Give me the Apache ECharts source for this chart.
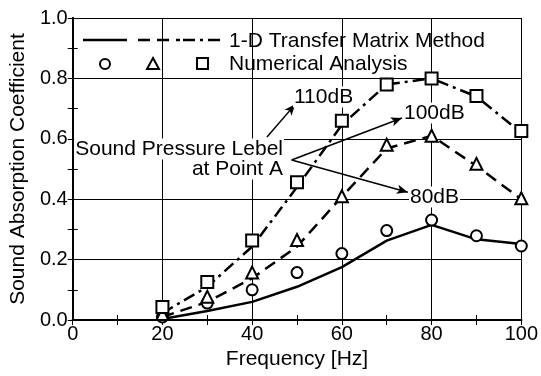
<!DOCTYPE html>
<html>
<head>
<meta charset="utf-8">
<script src="https://cdn.jsdelivr.net/npm/echarts@6/dist/echarts.min.js"></script>
<style>
  html, body { margin: 0; padding: 0; background: #fff; }
  #main { width: 541px; height: 376px; }
</style>
</head>
<body>
<div id="main"></div>
<script>
// 横轴频率
let freq = [20, 30, 40, 50, 60, 70, 80, 90, 100];
let xTicks = [0, 20, 40, 60, 80, 100];
let yTicks = [0.0, 0.2, 0.4, 0.6, 0.8, 1.0];

// 1-D Transfer Matrix Method
let tmm80 = [0.003, 0.03, 0.06, 0.11, 0.175, 0.263, 0.315, 0.267, 0.252];
let tmm100 = [0.01, 0.06, 0.138, 0.243, 0.408, 0.568, 0.61, 0.51, 0.40];
let tmm110 = [0.023, 0.11, 0.243, 0.44, 0.646, 0.78, 0.80, 0.74, 0.62];

// Numerical Analysis
let num80 = [0.01, 0.056, 0.10, 0.157, 0.22, 0.296, 0.331, 0.279, 0.245];
let num100 = [0.02, 0.077, 0.157, 0.265, 0.41, 0.58, 0.61, 0.517, 0.403];
let num110 = [0.043, 0.126, 0.263, 0.456, 0.66, 0.78, 0.80, 0.742, 0.626];

let levelLabels = ['110dB', '100dB', '80dB'];

const FONT = "'Liberation Sans', Arial, sans-serif";
const black = '#000';
const dashLine = [12, 7];
const dashDot = [12, 5, 3, 5];

let pairs = arr => freq.map((f, i) => [f, arr[i]]);

let chart = echarts.init(document.getElementById('main'));

let baseX = {
    type: 'value',
    min: xTicks[0],
    max: xTicks[xTicks.length - 1],
    interval: 20,
    axisLine: { show: true, lineStyle: { color: black, width: 2 } },
    axisTick: { show: true, inside: true, length: 5, lineStyle: { color: black, width: 1 } },
    minorTick: { show: true, splitNumber: 2, length: -5, lineStyle: { color: black, width: 1 } },
};
let baseY = {
    type: 'value',
    min: yTicks[0],
    max: yTicks[yTicks.length - 1],
    interval: 0.2,
    axisLine: { show: true, lineStyle: { color: black, width: 2 } },
    axisTick: { show: true, inside: true, length: 5, lineStyle: { color: black, width: 1 } },
    minorTick: { show: true, splitNumber: 2, length: -5, lineStyle: { color: black, width: 1 } },
};

// 空心符号
let hollow = { color: '#fff', borderColor: black, borderWidth: 2, opacity: 1 };

chart.setOption({
    animation: false,
    backgroundColor: '#fff',
    textStyle: { fontFamily: FONT, color: black },
    grid: { left: 68, right: 18, top: 18, bottom: 56, containLabel: false },
    xAxis: [
        Object.assign({}, baseX, {
            position: 'bottom',
            name: 'Frequency [Hz]',
            nameLocation: 'middle',
            nameGap: 27,
            nameTextStyle: { fontSize: 21, color: black, fontFamily: FONT },
            axisLabel: { show: true, margin: 4, fontSize: 20, color: black, fontFamily: FONT },
            splitLine: { show: true, lineStyle: { color: black, width: 1 } },
        }),
        Object.assign({}, baseX, {
            position: 'top',
            axisLabel: { show: false },
            splitLine: { show: false },
        })
    ],
    yAxis: [
        Object.assign({}, baseY, {
            position: 'left',
            name: 'Sound Absorption Coefficient',
            nameLocation: 'middle',
            nameGap: 37,
            nameTextStyle: { fontSize: 21, color: black, fontFamily: FONT },
            axisLabel: {
                show: true, margin: 5, fontSize: 20, color: black, fontFamily: FONT,
                formatter: v => v.toFixed(1)
            },
            splitLine: { show: true, lineStyle: { color: black, width: 1 } },
        }),
        Object.assign({}, baseY, {
            position: 'right',
            axisLabel: { show: false },
            splitLine: { show: false },
        })
    ],
    series: [
        {
            name: '80dB TMM',
            type: 'line',
            data: pairs(tmm80),
            symbol: 'none',
            lineStyle: { color: black, width: 2.5, type: 'solid' },
            z: 3,
            markLine: {
                silent: true,
                symbol: ['none', 'arrow'],
                symbolSize: [7, 11],
                label: { show: false },
                lineStyle: { color: black, width: 1.5, type: 'solid' },
                emphasis: { disabled: true },
                data: [
                    [{ coord: [43.3, 0.606] }, { coord: [49.6, 0.714] }],
                    [{ coord: [48.8, 0.530] }, { coord: [73.4, 0.669] }],
                    [{ coord: [48.8, 0.530] }, { coord: [74.7, 0.423] }]
                ]
            }
        },
        {
            name: '100dB TMM',
            type: 'line',
            data: pairs(tmm100),
            symbol: 'none',
            lineStyle: { color: black, width: 2.5, type: dashLine },
            z: 3
        },
        {
            name: '110dB TMM',
            type: 'line',
            data: pairs(tmm110),
            symbol: 'none',
            lineStyle: { color: black, width: 2.5, type: dashDot },
            z: 3
        },
        {
            name: '80dB Num',
            type: 'scatter',
            data: pairs(num80),
            symbol: 'circle',
            symbolSize: 11,
            itemStyle: hollow,
            z: 4
        },
        {
            name: '100dB Num',
            type: 'scatter',
            data: pairs(num100),
            symbol: 'triangle',
            symbolSize: 12,
            itemStyle: hollow,
            z: 4
        },
        {
            name: '110dB Num',
            type: 'scatter',
            data: pairs(num110),
            symbol: 'rect',
            symbolSize: 12,
            itemStyle: hollow,
            z: 4
        }
    ],
    graphic: [
        // 图例
        { type: 'line', shape: { x1: 83, y1: 40, x2: 127, y2: 40 }, style: { stroke: black, lineWidth: 2.5 }, z: 10 },
        { type: 'line', shape: { x1: 138, y1: 40, x2: 180, y2: 40 }, style: { stroke: black, lineWidth: 2.5, lineDash: dashLine }, z: 10 },
        { type: 'line', shape: { x1: 183, y1: 40, x2: 223, y2: 40 }, style: { stroke: black, lineWidth: 2.5, lineDash: dashDot }, z: 10 },
        { type: 'circle', shape: { cx: 105, cy: 64, r: 5 }, style: { fill: '#fff', stroke: black, lineWidth: 2 }, z: 10 },
        { type: 'polygon', shape: { points: [[153, 58], [159, 69], [147, 69]] }, style: { fill: '#fff', stroke: black, lineWidth: 2 }, z: 10 },
        { type: 'rect', shape: { x: 197, y: 58, width: 11, height: 11 }, style: { fill: '#fff', stroke: black, lineWidth: 2 }, z: 10 },
        { type: 'text', x: 229, y: 41, style: { text: '1-D Transfer Matrix Method', font: '21px ' + FONT, fill: black, verticalAlign: 'middle' }, z: 10 },
        { type: 'text', x: 229, y: 64, style: { text: 'Numerical Analysis', font: '21px ' + FONT, fill: black, verticalAlign: 'middle' }, z: 10 },
        // 标注
        { type: 'text', x: 284, y: 149, style: { text: 'Sound Pressure Lebel', font: '21px ' + FONT, fill: black, align: 'right', verticalAlign: 'middle', backgroundColor: '#fff', padding: [0, 1] }, z: 10 },
        { type: 'text', x: 284, y: 169, style: { text: 'at Point A', font: '21px ' + FONT, fill: black, align: 'right', verticalAlign: 'middle', backgroundColor: '#fff', padding: [0, 1] }, z: 10 },
        { type: 'text', x: 293, y: 97, style: { text: levelLabels[0], font: '21px ' + FONT, fill: black, verticalAlign: 'middle', backgroundColor: '#fff', padding: [0, 1] }, z: 10 },
        { type: 'text', x: 403, y: 113, style: { text: levelLabels[1], font: '21px ' + FONT, fill: black, verticalAlign: 'middle', backgroundColor: '#fff', padding: [0, 1] }, z: 10 },
        { type: 'text', x: 409, y: 197, style: { text: levelLabels[2], font: '21px ' + FONT, fill: black, verticalAlign: 'middle', backgroundColor: '#fff', padding: [0, 1] }, z: 10 }
    ]
});
</script>
</body>
</html>
